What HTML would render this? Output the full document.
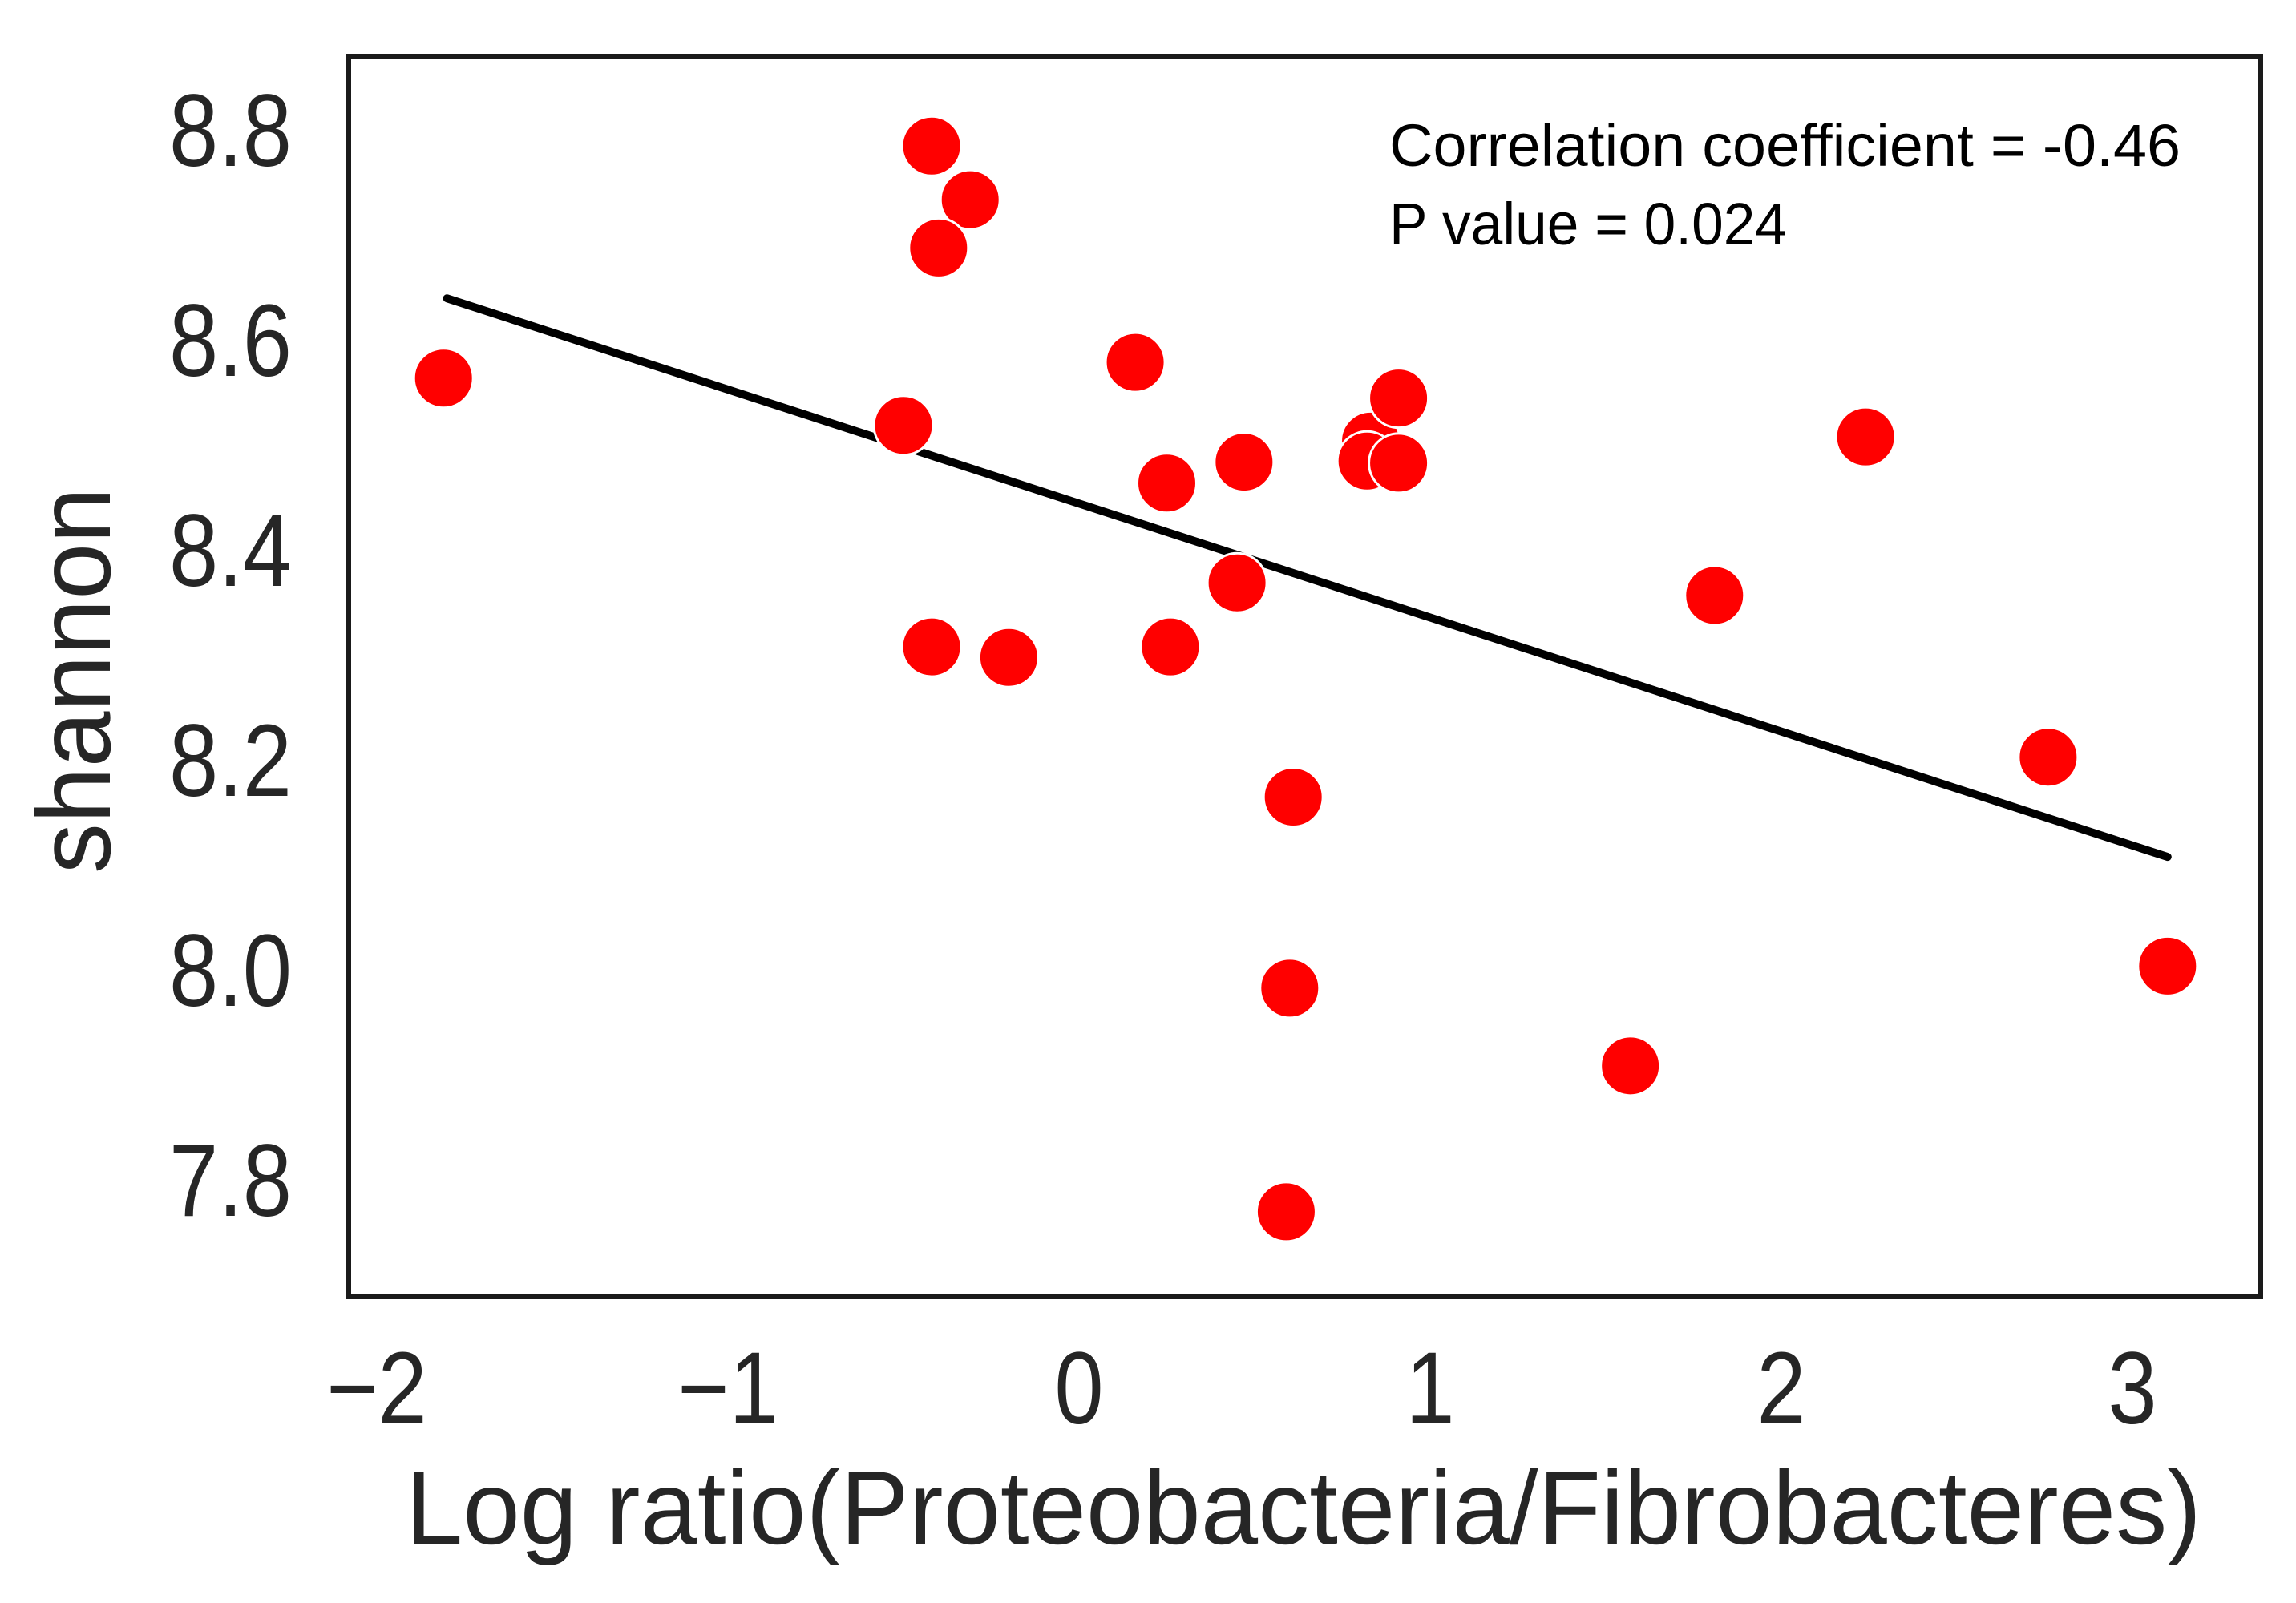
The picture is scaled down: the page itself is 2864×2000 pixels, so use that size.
<!DOCTYPE html>
<html><head><meta charset="utf-8"><style>
html,body{margin:0;padding:0;background:#fff;}
svg{display:block;}
text{font-family:"Liberation Sans",sans-serif;fill:#262626;}
</style></head><body>
<svg id="chart" width="2864" height="2000" viewBox="0 0 2864 2000" xmlns="http://www.w3.org/2000/svg">
<rect x="0" y="0" width="2864" height="2000" fill="#fff"/>
<g id="marks"></g>
<rect x="435" y="70" width="2385" height="1548" fill="none" stroke="#1a1a1a" stroke-width="6"/>
<g id="yticks"></g>
<g id="xticks"></g>
<text x="1626" y="1926" text-anchor="middle" font-size="130" textLength="2240" lengthAdjust="spacingAndGlyphs">Log ratio(Proteobacteria/Fibrobacteres)</text>
<text transform="translate(137,849) rotate(-90)" text-anchor="middle" font-size="130" textLength="482" lengthAdjust="spacingAndGlyphs">shannon</text>
<text x="1733" y="207" font-size="74" textLength="987" lengthAdjust="spacingAndGlyphs" style="fill:#000">Correlation coefficient = -0.46</text>
<text x="1733" y="305" font-size="74" textLength="496" lengthAdjust="spacingAndGlyphs" style="fill:#000">P value = 0.024</text>
</svg>
<script>
const xValues = [-1.81,-0.42,-0.31,-0.40,-0.50,-0.42,-0.20,0.16,0.25,0.26,0.47,0.45,0.61,0.60,0.59,0.83,0.82,0.91,0.91,2.24,1.81,1.57,2.76,3.10];
const yValues = [8.562,8.783,8.732,8.686,8.517,8.306,8.296,8.577,8.462,8.306,8.482,8.367,8.163,7.981,7.768,8.502,8.483,8.481,8.543,8.506,8.355,7.907,8.201,8.002];
const fitX = [-1.80,3.10];
const fitY = [8.638,8.106];
const xTicks = [-2,-1,0,1,2,3];
const xTickLabels = ["\u22122","\u22121","0","1","2","3"];
const yTicks = [7.8,8.0,8.2,8.4,8.6,8.8];
const yTickLabels = ["7.8","8.0","8.2","8.4","8.6","8.8"];

const NS = "http://www.w3.org/2000/svg";
function xScale(v){ return 1346 + v*438; }
function yScale(v){ return 160 + (8.8 - v)*1310; }
function mk(tag, attrs, parent){
  const el = document.createElementNS(NS, tag);
  for (const k in attrs) el.setAttribute(k, attrs[k]);
  parent.appendChild(el);
  return el;
}
const marks = document.getElementById('marks');
const line = mk('line', {x1:xScale(fitX[0]), y1:yScale(fitY[0]), x2:xScale(fitX[1]), y2:yScale(fitY[1]), stroke:'#000', 'stroke-width':10, 'stroke-linecap':'round'}, marks);


xValues.forEach((xv, i) => {
  const c = mk('circle', {cx:xScale(xv), cy:yScale(yValues[i]), r:37, fill:'#ff0000', stroke:'#fff', 'stroke-width':3}, marks);
  
  
});
const yt = document.getElementById('yticks');
yTicks.forEach((v, i) => {
  const t = mk('text', {x:0, y:0, 'text-anchor':'end', 'font-size':128, transform:'translate(364,' + (yScale(v)+47) + ') scale(0.86,1)'}, yt);
  t.textContent = yTickLabels[i];
  
  
});
const xt = document.getElementById('xticks');
xTicks.forEach((v, i) => {
  const t = mk('text', {x:0, y:0, 'text-anchor':'middle', 'font-size':128, transform:'translate(' + xScale(v) + ',1776) scale(0.86,1)'}, xt);
  t.textContent = xTickLabels[i];
  
  
});
</script>
</body></html>
